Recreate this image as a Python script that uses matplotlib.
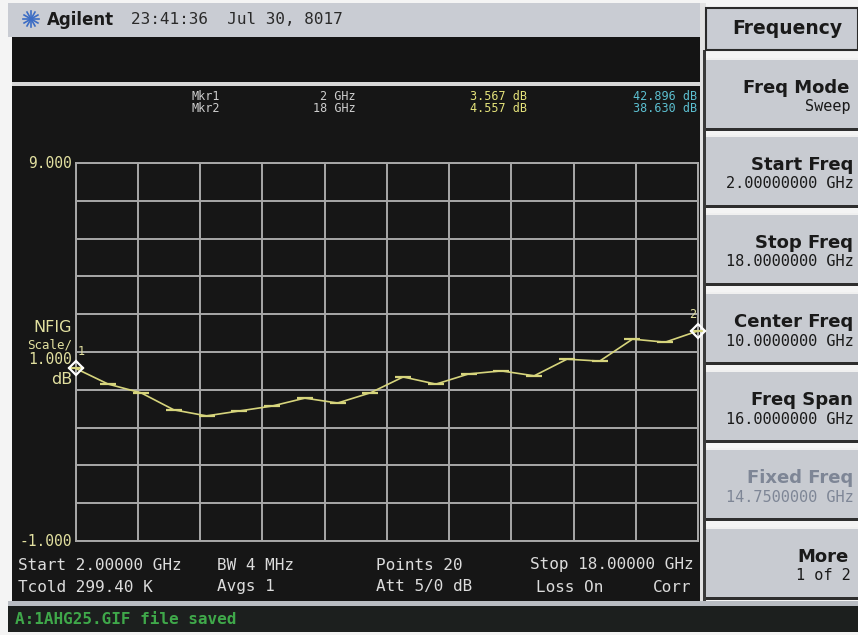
import numpy as np
import matplotlib
matplotlib.use("Agg")
import matplotlib.pyplot as plt
from matplotlib.patches import Rectangle

# ---------------- data ----------------
freq_start_ghz = 2.0
freq_stop_ghz = 18.0
n_points = 20
nfig_db = [3.567, 3.15, 2.92, 2.47, 2.31, 2.44, 2.57, 2.78, 2.65, 2.92,
           3.34, 3.15, 3.42, 3.50, 3.37, 3.81, 3.76, 4.34, 4.26, 4.557]
y_ref_top = 9.0
y_ref_bottom = -1.0
marker_freqs = [2.0, 18.0]
marker_vals = [3.567, 4.557]
marker_names = ["1", "2"]
mkr_rows = [("Mkr1", "2 GHz", "3.567 dB", "42.896 dB"),
            ("Mkr2", "18 GHz", "4.557 dB", "38.630 dB")]
softkeys = [("Freq Mode", "Sweep"), ("Start Freq", "2.00000000 GHz"),
            ("Stop Freq", "18.0000000 GHz"), ("Center Freq", "10.0000000 GHz"),
            ("Freq Span", "16.0000000 GHz"), ("Fixed Freq", "14.7500000 GHz"),
            ("More", "1 of 2")]

freqs = np.linspace(freq_start_ghz, freq_stop_ghz, n_points)

W, H = 858, 635
fig = plt.figure(figsize=(W / 100, H / 100), dpi=100)
fig.patch.set_facecolor("#f4f4f4")
bg = fig.add_axes([0, 0, 1, 1])
bg.set_xlim(0, W)
bg.set_ylim(H, 0)
bg.axis("off")

MONO = "DejaVu Sans Mono"
SANS = "DejaVu Sans"

def rect(x0, y0, x1, y1, fc, ec="none", lw=0, z=1):
    bg.add_patch(Rectangle((x0, y0), x1 - x0, y1 - y0, facecolor=fc,
                           edgecolor=ec, linewidth=lw, zorder=z))

# header
rect(8, 3, 706, 37, "#c9ccd3")
rect(12, 37, 700, 82, "#141414")
rect(12, 82, 700, 86, "#d8d8d8")
rect(12, 86, 700, 601, "#161616")
rect(700, 3, 706, 602, "#e2e2e2")
rect(703, 50, 706, 602, "#3a3a3a")
# status bar
rect(8, 601, W, 606, "#b8bcc2")
rect(8, 606, W, 632, "#1c1f1e")

# Agilent logo (spark)
cx, cy = 31, 19
for a in np.linspace(0, np.pi, 6, endpoint=False):
    dx, dy = 8 * np.cos(a), 8 * np.sin(a)
    bg.plot([cx - dx, cx + dx], [cy - dy, cy + dy], color="#3b6cc4", lw=1.2, zorder=3)
bg.text(47, 20, "Agilent", fontsize=12, fontweight="bold", family=SANS,
        color="#1a1a1a", va="center", ha="left", zorder=3)
bg.text(131, 20, "23:41:36  Jul 30, 8017", fontsize=11.5, family=MONO,
        color="#2a2a2a", va="center", ha="left", zorder=3)

# softkey panel
rect(706, 8, W, 50, "#c9ccd3", ec="#2a2a2a", lw=1.5, z=2)
bg.text(787, 29, "Frequency", fontsize=13.5, fontweight="bold", family=SANS,
        color="#1a1a1a", ha="center", va="center", zorder=3)
key_tops = [58, 135, 213, 292, 370, 448, 527]
key_h = 73
for (title, sub), top in zip(softkeys, key_tops):
    rect(706, top, W, top + key_h, "#c8cbd1", z=2)
    rect(706, top, W, top + 2, "#f0f0f0", z=2)
    rect(706, top + key_h - 3, W, top + key_h, "#2e2e2e", z=2)
    col = "#7e8696" if title.startswith("Fixed") else "#1a1a1a"
    if title in ("Freq Mode", "More"):
        xr_t, xr_s = 849, 851
    else:
        xr_t, xr_s = 853, 854
    bg.text(xr_t, top + 30, title, fontsize=13, fontweight="bold", family=SANS,
            color=col, ha="right", va="center", zorder=3)
    bg.text(xr_s, top + 49, sub, fontsize=11, family=MONO,
            color=col, ha="right", va="center", zorder=3)

# marker readout
for i, (m, f, v, c) in enumerate(mkr_rows):
    y = 96 + i * 12
    bg.text(192, y, m, fontsize=8.5, family=MONO, color="#cfcfcf", ha="left", va="center", zorder=3)
    bg.text(356, y, f, fontsize=8.5, family=MONO, color="#cfcfcf", ha="right", va="center", zorder=3)
    bg.text(527, y, v, fontsize=8.5, family=MONO, color="#e4e27a", ha="right", va="center", zorder=3)
    bg.text(697, y, c, fontsize=8.5, family=MONO, color="#5cbfd0", ha="right", va="center", zorder=3)

# y labels
ylab = "#e2e0a0"
bg.text(72, 164, f"{y_ref_top:.3f}", fontsize=10.5, family=MONO, color=ylab, ha="right", va="center", zorder=3)
bg.text(72, 541, f"{y_ref_bottom:.3f}", fontsize=10.5, family=MONO, color=ylab, ha="right", va="center", zorder=3)
bg.text(72, 327, "NFIG", fontsize=11.5, family=SANS, color=ylab, ha="right", va="center", zorder=3)
bg.text(72, 345, "Scale/", fontsize=9, family=MONO, color=ylab, ha="right", va="center", zorder=3)
bg.text(72, 360, "1.000", fontsize=10.5, family=MONO, color=ylab, ha="right", va="center", zorder=3)
bg.text(72, 379, "dB", fontsize=11.5, family=SANS, color=ylab, ha="right", va="center", zorder=3)

# bottom info
info = "#dcdcdc"
bg.text(18, 565, f"Start {freq_start_ghz:.5f} GHz", fontsize=11.5, family=MONO, color=info, ha="left", va="center", zorder=3)
bg.text(217, 565, "BW 4 MHz", fontsize=11.5, family=MONO, color=info, ha="left", va="center", zorder=3)
bg.text(376, 565, f"Points {n_points}", fontsize=11.5, family=MONO, color=info, ha="left", va="center", zorder=3)
bg.text(694, 565, f"Stop {freq_stop_ghz:.5f} GHz", fontsize=11.5, family=MONO, color=info, ha="right", va="center", zorder=3)
bg.text(18, 587, "Tcold 299.40 K", fontsize=11.5, family=MONO, color=info, ha="left", va="center", zorder=3)
bg.text(217, 587, "Avgs 1", fontsize=11.5, family=MONO, color=info, ha="left", va="center", zorder=3)
bg.text(376, 587, "Att 5/0 dB", fontsize=11.5, family=MONO, color=info, ha="left", va="center", zorder=3)
bg.text(536, 587, "Loss On", fontsize=11.5, family=MONO, color=info, ha="left", va="center", zorder=3)
bg.text(691, 587, "Corr", fontsize=11.5, family=MONO, color=info, ha="right", va="center", zorder=3)

bg.text(15, 620, "A:1AHG25.GIF file saved", fontsize=11.5, family=MONO, fontweight="bold",
        color="#3fa84a", ha="left", va="center", zorder=3)

# ---------------- plot area ----------------
x0, x1, yt, yb = 75.5, 698.0, 163.0, 541.0
ax = fig.add_axes([x0 / W, (H - yb) / H, (x1 - x0) / W, (yb - yt) / H])
ax.set_facecolor("#161616")
ax.set_xlim(freq_start_ghz, freq_stop_ghz)
ax.set_ylim(y_ref_bottom, y_ref_top)
ax.set_xticks(np.linspace(freq_start_ghz, freq_stop_ghz, 11))
ax.set_yticks(np.arange(y_ref_bottom, y_ref_top + 0.5, 1.0))
ax.grid(True, color="#a8a8a8", lw=1.4)
ax.tick_params(length=0, labelbottom=False, labelleft=False)
for s in ax.spines.values():
    s.set_color("#a8a8a8")
    s.set_linewidth(1.4)

ax.plot(freqs, nfig_db, color="#d6d47c", lw=1.2, marker="_", ms=11, mew=1.6,
        clip_on=False, zorder=4)
ax.plot(marker_freqs, marker_vals, linestyle="none", marker="D", ms=7,
        mfc="none", mec="white", mew=1.6, clip_on=False, zorder=5)
for f, v, n in zip(marker_freqs, marker_vals, marker_names):
    ax.annotate(n, (f, v), xytext=(4 if f == marker_freqs[0] else -4, 12),
                textcoords="offset points", ha="center", va="center",
                fontsize=8.5, family=MONO, color="#e2e0a0", annotation_clip=False, zorder=6)

fig.savefig("out.png", dpi=100, facecolor=fig.get_facecolor())
